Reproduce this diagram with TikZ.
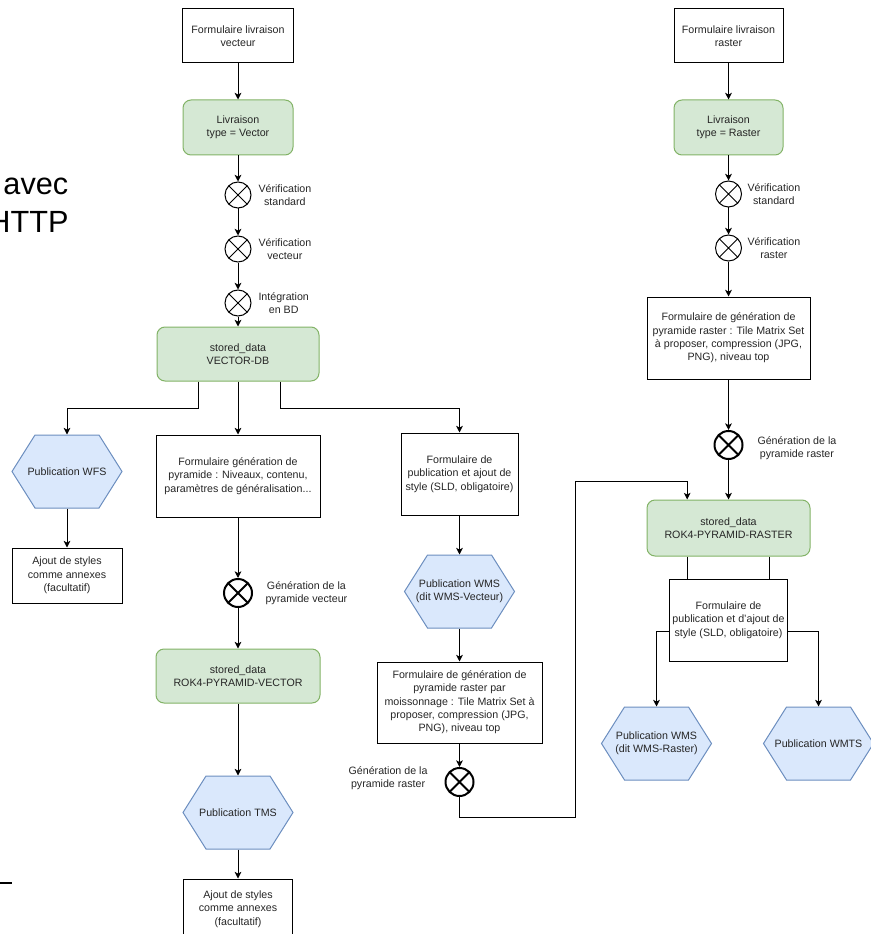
\documentclass[tikz,border=0pt]{standalone}
\usepackage{fontspec}
\setmainfont{Liberation Sans}
\usetikzlibrary{arrows.meta}
\definecolor{lgreen}{HTML}{D5E8D4}
\definecolor{dgreen}{HTML}{82B366}
\definecolor{lblue}{HTML}{DAE8FC}
\definecolor{dblue}{HTML}{6C8EBF}
\newcommand\pubhex[3]{%
	\filldraw[fill=lblue,draw=dblue] (#2) ++(-55,0) -- ++(23,-36.5) -- ++(64,0) -- ++(23,36.5) -- ++(-23,36.5) -- ++(-64,0) -- cycle;
	\node[base,minimum width=82.5pt,minimum height=54.75pt] (#1) at (#2) {#3};}
\begin{document}
\begin{tikzpicture}[x=0.75pt,y=-0.75pt,line width=0.75pt,
	base/.style={align=center,inner sep=1pt,font=\fontsize{8}{10}\selectfont,text=black!85},
	form/.style 2 args={base,draw,fill=white,minimum width=#1*0.75pt,minimum height=#2*0.75pt},
	data/.style 2 args={form={#1}{#2},rounded corners=6pt,draw=dgreen,fill=lgreen},
	gate/.style={circle,draw,line width=#1,fill=white,minimum size=19.5pt,inner sep=0pt,
		path picture={\draw[line width=#1] (path picture bounding box.north west) -- (path picture bounding box.south east) (path picture bounding box.south west) -- (path picture bounding box.north east);}},
	gate/.default=0.75pt,
	gen/.style={gate=1.5pt,minimum size=21pt},
	lbl/.style={base,inner sep=0pt},
	arr/.style={-{Stealth[length=5pt,width=5pt,inset=1.3pt]}}]
	\useasboundingbox (0,0) rectangle (870,934);
	\node[anchor=base west,inner sep=0pt,font=\fontsize{23}{28}\selectfont] (avec) at (3,195) {avec};
	\node[anchor=base east,inner sep=0pt,font=\fontsize{23}{28}\selectfont] (http) at (69,233) {HTTP};
	\draw[line width=1pt] (0,883) -- (12,883);

	\node[form={111}{54}] (fvec) at (238,36) {Formulaire livraison\\vecteur};
	\node[data={110}{55}] (lvec) at (238,127.5) {Livraison\\type = Vector};
	\node[gate] (vstd) at (238,195) {};
	\node[gate] (vvec) at (238,249) {};
	\node[gate] (vbd) at (238,303) {};
	\node[lbl,anchor=west] (tvstd) at (258,195) {Vérification\\standard};
	\node[lbl,anchor=west] (tvvec) at (258,249) {Vérification\\vecteur};
	\node[lbl,anchor=west] (tvbd) at (258,303) {Intégration\\en BD};
	\node[data={162}{54}] (vdb) at (238,354) {stored\_data\\VECTOR-DB};
	\pubhex{wfs}{67,471.5}{Publication WFS}
	\node[form={110}{55}] (awfs) at (67,575.5) {Ajout de styles\\comme annexes\\(facultatif)};
	\node[form={164}{82}] (fgen) at (238,476) {Formulaire génération de\\pyramide : Niveaux, contenu,\\paramètres de généralisation...};
	\node[gen] (gvec) at (238,593) {};
	\node[lbl,anchor=west] (tgvec) at (265,593) {Génération de la\\pyramide vecteur};
	\node[data={164}{54}] (pvec) at (238,676) {stored\_data\\ROK4-PYRAMID-VECTOR};
	\pubhex{tms}{238,812.5}{Publication TMS}
	\node[form={109}{60}] (atms) at (238,909) {Ajout de styles\\comme annexes\\(facultatif)};

	\node[form={117}{82}] (fpub) at (459.5,474) {Formulaire de\\publication et ajout de\\style (SLD, obligatoire)};
	\pubhex{wmsv}{459.5,591.5}{Publication WMS\\(dit WMS-Vecteur)}
	\node[form={165}{81}] (fmoi) at (459.5,702.5) {Formulaire de génération de\\pyramide raster par\\moissonnage : Tile Matrix Set à\\proposer, compression (JPG,\\PNG), niveau top};
	\node[gen] (gmoi) at (459.5,782) {};
	\node[lbl,anchor=east] (tgmoi) at (428,778) {Génération de la\\pyramide raster};

	\node[form={109}{54}] (fras) at (728.5,36) {Formulaire livraison\\raster};
	\node[data={109}{55}] (lras) at (728.5,127.5) {Livraison\\type = Raster};
	\node[gate] (rstd) at (728.5,194) {};
	\node[gate] (rras) at (728.5,248) {};
	\node[lbl,anchor=west] (trstd) at (747,194) {Vérification\\standard};
	\node[lbl,anchor=west] (trras) at (747,248) {Vérification\\raster};
	\node[form={163}{82}] (fgr) at (728.5,338) {Formulaire de génération de\\pyramide raster : Tile Matrix Set\\à proposer, compression (JPG,\\PNG), niveau top};
	\node[gen] (grast) at (728.5,445) {};
	\node[lbl,anchor=west] (tgrast) at (757,448) {Génération de la\\pyramide raster};
	\node[data={163}{56}] (prast) at (728.5,528) {stored\_data\\ROK4-PYRAMID-RASTER};
	\node[form={118}{82}] (fpr) at (728.5,620) {Formulaire de\\publication et d'ajout de\\style (SLD, obligatoire)};
	\pubhex{wmsr}{656.5,743.5}{Publication WMS\\(dit WMS-Raster)}
	\pubhex{wmts}{818.5,743.5}{Publication WMTS}

	\draw[arr] (fvec) -- (lvec);
	\draw[arr] (lvec) -- (vstd);
	\draw[arr] (vstd) -- (vvec);
	\draw[arr] (vvec) -- (vbd);
	\draw[arr] (vbd) -- (vdb);
	\draw[arr] ([xshift=-30pt]vdb.south) -- ++(0,27) -| (wfs.north);
	\draw[arr] (wfs) -- (awfs);
	\draw[arr] (vdb) -- (fgen);
	\draw[arr] ([xshift=31.5pt]vdb.south) -- ++(0,27) -| (fpub.north);
	\draw[arr] (fgen) -- (gvec);
	\draw[arr] (gvec) -- (pvec);
	\draw[arr] (pvec) -- (tms);
	\draw[arr] (tms) -- (atms);
	\draw[arr] (fpub) -- (wmsv);
	\draw[arr] (wmsv) -- (fmoi);
	\draw[arr] (fmoi) -- (gmoi);
	\draw[arr] (gmoi.south) |- (575,817) -- (575,481) -| ([xshift=-31pt]prast.north);
	\draw[arr] (fras) -- (lras);
	\draw[arr] (lras) -- (rstd);
	\draw[arr] (rstd) -- (rras);
	\draw[arr] (rras) -- (fgr);
	\draw[arr] (fgr) -- (grast);
	\draw[arr] (grast) -- (prast);
	\draw ([xshift=-31pt]prast.south) -- ([xshift=-31pt]fpr.north);
	\draw ([xshift=30.5pt]prast.south) -- ([xshift=30.5pt]fpr.north);
	\draw[arr] ([yshift=-8.25pt]fpr.west) -| (wmsr.north);
	\draw[arr] ([yshift=-8.25pt]fpr.east) -| (wmts.north);
\end{tikzpicture}
\end{document}
